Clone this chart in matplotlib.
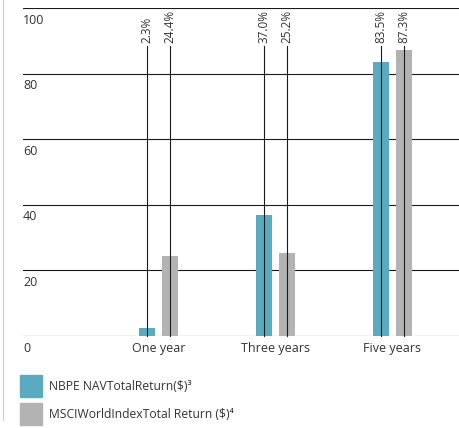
import matplotlib
matplotlib.use("Agg")
import matplotlib.pyplot as plt
from matplotlib.patches import Rectangle
from matplotlib.lines import Line2D
import numpy as np

categories = ["One year", "Three years", "Five years"]
nbpe = [2.3, 37.0, 83.5]
msci = [24.4, 25.2, 87.3]
nbpe_labels = ["2.3%", "37.0%", "83.5%"]
msci_labels = ["24.4%", "25.2%", "87.3%"]
yticks = [0, 20, 40, 60, 80, 100]
legend_labels = ["NBPE NAVTotalReturn($)³", "MSCIWorldIndexTotal Return ($)⁴"]

teal = "#5aabbf"
grey = "#b3b3b3"
txt = "#333333"

plt.rcParams['font.family'] = ['Open Sans', 'DejaVu Sans']

W, H = 460, 428
fig = plt.figure(figsize=(W / 100, H / 100), dpi=100)
fig.patch.set_facecolor("white")

left_px, right_px, top_px, bot_px = 23, 460, 8, 336
ax = fig.add_axes([left_px / W, 1 - bot_px / H, (right_px - left_px) / W, (bot_px - top_px) / H])
ax.set_facecolor("none")
ax.set_ylim(0, 100)
ax.set_xlim(-1.158, 2.577)
for s in ax.spines.values():
    s.set_visible(False)
ax.set_xticks([])
ax.set_yticks([])

x = np.arange(len(categories))
off = 0.1
bw = 0.137
ax.bar(x - off, nbpe, width=bw, color=teal, zorder=2)
ax.bar(x + off, msci, width=bw, color=grey, zorder=2)

# gridlines
for t in yticks:
    ax.axhline(t, color="#1a1a1a", lw=0.8, zorder=1)
    ax.annotate(str(t), xy=(0, t), xycoords=("axes fraction", "data"),
                xytext=(0, -4), textcoords="offset points",
                ha="left", va="top", fontsize=9, color=txt)

# leader lines and rotated labels
for xs, labs in ((x - off, nbpe_labels), (x + off, msci_labels)):
    for xi, lab in zip(xs, labs):
        ax.plot([xi, xi], [0, 88.3], color="#1a1a1a", lw=0.8, zorder=3, clip_on=False)
        ax.text(xi, 89.2, lab, rotation=90, ha="center", va="bottom",
                fontsize=8.5, color=txt)

# category labels
for xi, c in zip(x, categories):
    ax.annotate(c, xy=(xi, 0), xycoords="data", xytext=(0, -4),
                textcoords="offset points", ha="center", va="top",
                fontsize=9, color=txt)

# legend
for i, (lab, col) in enumerate(zip(legend_labels, [teal, grey])):
    ytop = [375, 403][i]
    fig.patches.append(Rectangle((20 / W, 1 - (ytop + 22) / H), 22 / W, 22 / H,
                                 transform=fig.transFigure, color=col))
    fig.text(49 / W, 1 - (ytop + 11) / H, lab, ha="left", va="center",
             fontsize=8.7, color=txt)

# left border
fig.lines.append(Line2D([3 / W, 3 / W], [1 - 420 / H, 1.0], transform=fig.transFigure,
                        color="#cccccc", lw=0.8))

fig.savefig("out.png", dpi=100)
